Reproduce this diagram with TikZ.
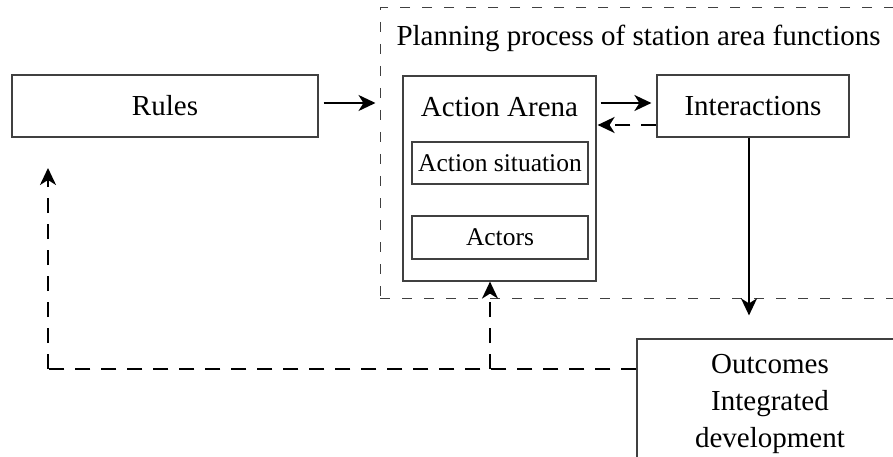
\documentclass[tikz,border=0pt]{standalone}
\usepackage{fontspec}
\setmainfont{Liberation Serif}
\usetikzlibrary{arrows.meta,calc}
\tikzset{
  box/.style={draw=black!75, line width=1.2pt, rectangle, inner sep=0pt, align=center},
  big/.style={font=\fontsize{29}{37}\selectfont},
  small/.style={font=\fontsize{25.5}{30}\selectfont},
  arr/.style={line width=2pt, -{Stealth[length=17pt,width=16pt,inset=5pt]}},
  darr/.style={line width=2pt, dash pattern=on 15pt off 11pt, -{Stealth[length=17pt,width=16pt,inset=5pt]}},
  dline/.style={line width=2pt, dash pattern=on 15pt off 11pt},
  planbox/.style={draw=black!75, line width=1pt, dash pattern=on 10pt off 12pt, rectangle, inner sep=0pt}
}
\begin{document}
\begin{tikzpicture}[x=1pt,y=-1pt]
\useasboundingbox (0,0) rectangle (893,457);
\clip (0,0) rectangle (893,457);
\fill[white] (0,0) rectangle (893,457);
% planning dashed box
\node[planbox, minimum width=530pt, minimum height=290pt] (plan) at (645,153) {};
\node[big, anchor=west] (plant) at (393,38) {Planning process of station area functions};
% boxes
\node[box, big, minimum width=306pt, minimum height=62pt] (rules) at (165,106) {Rules};
\node[box, minimum width=193pt, minimum height=205pt] (arena) at (499.5,178.5) {};
\node[big] (arenat) at (499.5,107) {Action Arena};
\node[box, small, minimum width=176pt, minimum height=42pt] (sit) at (500,163) {Action situation};
\node[box, small, minimum width=176pt, minimum height=43pt] (actors) at (500,237.5) {Actors};
\node[box, big, minimum width=192pt, minimum height=62pt] (inter) at (753,106) {Interactions};
\node[box, big, minimum width=266pt, minimum height=130pt] (out) at (770,404) {Outcomes\\Integrated\\development};
% arrows
\draw[arr] ([xshift=5pt,yshift=3pt]rules.east) -- ([xshift=-4pt,yshift=3pt]rules.east -| plan.west);
\draw[arr] ([xshift=4pt,yshift=3pt]arena.east |- inter.west) -- ([xshift=-5pt,yshift=3pt]inter.west);
\draw[darr] ([yshift=-19pt]inter.west) -- ([xshift=1pt,yshift=-19pt]arena.east |- inter.west);
\draw[arr] ([xshift=-4pt]inter.south) -- ([xshift=-4pt,yshift=23pt]inter.south |- out.north);
% feedback
\coordinate (fbl) at (48,369);
\coordinate (fbb) at (490,369);
\coordinate (fbt) at (48,168);
\draw[dline] ([yshift=35pt]out.west) -- (fbl);
\draw[darr] (fbl) -- (fbt);
\draw[darr] (fbb) -- (fbb |- arena.south);
\end{tikzpicture}
\end{document}
